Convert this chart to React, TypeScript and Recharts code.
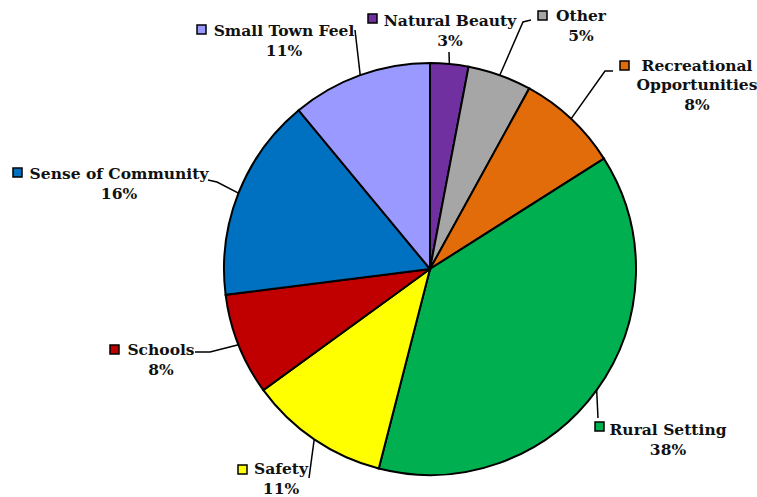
import { PieChart, Pie, Cell } from "recharts";

const categories = [
  "Natural Beauty",
  "Other",
  "Recreational Opportunities",
  "Rural Setting",
  "Safety",
  "Schools",
  "Sense of Community",
  "Small Town Feel",
];
const shares = [3, 5, 8, 38, 11, 8, 16, 11];
const colors = [
  "#7030A0",
  "#A6A6A6",
  "#E36C0A",
  "#00B050",
  "#FFFF00",
  "#C00000",
  "#0070C0",
  "#9999FF",
];

// label placement: name lines, square, text centre, baseline, leader-line bends
const labelLayout = [
  { lines: ["Natural Beauty"], sq: [368, 14], tx: 450, ty: 26, path: [[449, 52]] },
  { lines: ["Other"], sq: [538, 11], tx: 581, ty: 21, path: [[523, 22], [531, 20]] },
  { lines: ["Recreational", "Opportunities"], sq: [620, 61], tx: 697, ty: 71, path: [[605, 71], [613, 71]] },
  { lines: ["Rural Setting"], sq: [595, 422], tx: 668, ty: 435, path: [[598, 418]] },
  { lines: ["Safety"], sq: [238, 465], tx: 281, ty: 474, path: [[309, 478]] },
  { lines: ["Schools"], sq: [110, 345], tx: 161, ty: 355, path: [[210, 352], [195, 352]] },
  { lines: ["Sense of Community"], sq: [13, 168], tx: 119, ty: 179, path: [[217, 182], [208, 180]] },
  { lines: ["Small Town Feel"], sq: [197, 25], tx: 284, ty: 36, path: [[355, 30]] },
];

const data = categories.map((name, i) => ({ name, value: shares[i] }));

const RAD = Math.PI / 180;
const FONT = "'DejaVu Serif', serif";

const renderLabel = (props: any) => {
  const { cx, cy, midAngle, outerRadius, index, value } = props;
  const l = labelLayout[index];
  const sx = cx + outerRadius * Math.cos(-midAngle * RAD);
  const sy = cy + outerRadius * Math.sin(-midAngle * RAD);
  const pts = [[sx, sy], ...l.path].map((p) => p.join(",")).join(" ");
  const gap = 19;
  return (
    <g>
      <polyline points={pts} fill="none" stroke="#000" strokeWidth={1.5} />
      <rect x={l.sq[0]} y={l.sq[1]} width={9} height={9} fill={colors[index]} stroke="#000" strokeWidth={1.5} />
      {l.lines.map((t, k) => (
        <text key={k} x={l.tx} y={l.ty + k * gap} textAnchor="middle" fontFamily={FONT} fontWeight="bold" fontSize={15.5} fill="#111">
          {t}
        </text>
      ))}
      <text x={l.tx} y={l.ty + l.lines.length * gap + 1} textAnchor="middle" fontFamily={FONT} fontWeight="bold" fontSize={15.5} fill="#111">
        {value}%
      </text>
    </g>
  );
};

export default function App() {
  return (
    <div style={{ position: "absolute", left: 0, top: 0, background: "#fff" }}>
      <PieChart width={757} height={497} margin={{ top: 0, right: 0, bottom: 0, left: 0 }}>
        <Pie
          data={data}
          dataKey="value"
          cx={430}
          cy={269}
          outerRadius={206}
          startAngle={90}
          endAngle={-270}
          stroke="#000"
          strokeWidth={2}
          label={renderLabel}
          labelLine={false}
          isAnimationActive={false}
        >
          {data.map((d, i) => (
            <Cell key={d.name} fill={colors[i]} />
          ))}
        </Pie>
      </PieChart>
    </div>
  );
}
